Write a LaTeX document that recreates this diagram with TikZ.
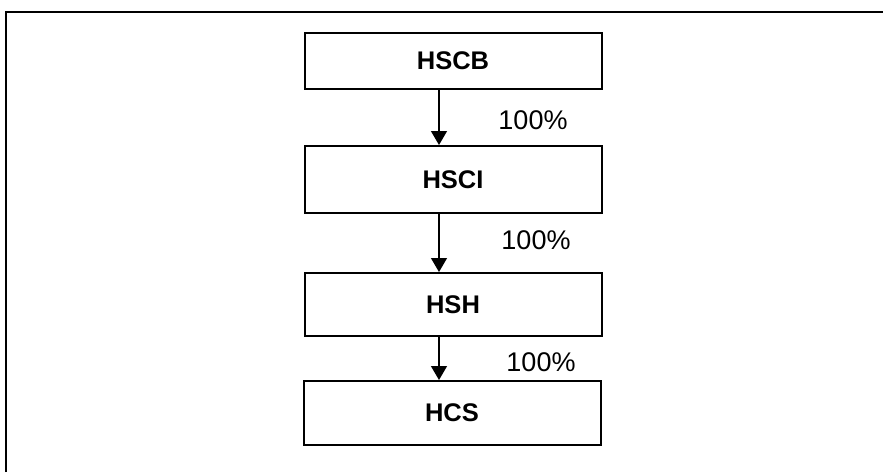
\documentclass[tikz,border=0pt]{standalone}
\usepackage{fontspec}
\setmainfont{Liberation Sans}
\usepackage{tikz}
\usetikzlibrary{arrows.meta}
\tikzstyle{company}=[draw,line width=2pt,minimum width=297pt,inner sep=0pt,font=\fontsize{25.5}{30}\selectfont\bfseries]
\tikzstyle{edge} = [draw,line width=1.4pt,-{Triangle[width=16pt,length=14pt]}]
\tikzstyle{share} = [font=\fontsize{27}{32}\selectfont]

\begin{document}
\begin{tikzpicture}[x=1pt,y=-1pt]
	\useasboundingbox (0,0) rectangle (883,472);
	% outer frame
	\draw[line width=2.5pt] (6,472) -- (6,12) -- (883,12);

	% First we draw the companies
	\foreach \pos/\name/\boxh/\txt in {{(453,61)/b/56/HSCB}, {(453,179.5)/i/67/HSCI}, {(453,304.5)/h/63/HSH}, {(452,413)/c/64/HCS}}
	\node[company,minimum height=\boxh pt] (\name) at \pos {\txt};

	% Connect companies with arrows and draw the shares
	\coordinate (ax) at (439,0);
	\foreach \source/ \dest in {b/i, i/h, h/c}
	\path[edge] (\source.south -| ax) -- (\dest.north -| ax);

	\foreach \pos/\name in {{(533,120)/p1}, {(536,240)/p2}, {(541,362)/p3}}
	\node[share] (\name) at \pos {100\%};
\end{tikzpicture}
\end{document}
